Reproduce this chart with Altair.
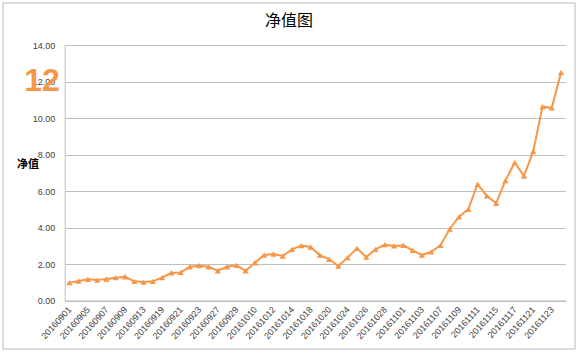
import altair as alt
import pandas as pd

dates = [
    "20160901", "20160902", "20160905", "20160906", "20160907", "20160908", "20160909",
    "20160912", "20160913", "20160914", "20160919", "20160920", "20160921", "20160922",
    "20160923", "20160926", "20160927", "20160928", "20160929", "20160930",
    "20161010", "20161011", "20161012", "20161013", "20161014", "20161017", "20161018",
    "20161019", "20161020", "20161021", "20161024", "20161025", "20161026", "20161027",
    "20161028", "20161031",
    "20161101", "20161102", "20161103", "20161104", "20161107", "20161108", "20161109",
    "20161110", "20161111", "20161114", "20161115", "20161116", "20161117", "20161118",
    "20161121", "20161122", "20161123", "20161124",
]
nav = [
    0.98, 1.07, 1.16, 1.12, 1.18, 1.25, 1.30,
    1.05, 1.01, 1.05, 1.25, 1.52, 1.54, 1.85,
    1.91, 1.85, 1.63, 1.85, 1.93, 1.63,
    2.07, 2.49, 2.55, 2.44, 2.80, 3.01, 2.93,
    2.49, 2.26, 1.89, 2.35, 2.86, 2.38, 2.80,
    3.06, 2.99,
    3.02, 2.75, 2.49, 2.66, 3.02, 3.92, 4.59,
    5.00, 6.37, 5.73, 5.33, 6.57, 7.56, 6.82,
    8.18, 10.62, 10.56, 12.50,
]
y_ticks = [0, 2, 4, 6, 8, 10, 12, 14]
label_dates = dates[::2]

title_text = "净值图"
y_title = "净值"
big_label = "12"

ORANGE = "#F79646"
W, H = 501, 255.5
PAD_L, PAD_T = 64.7, 45

df = pd.DataFrame({"date": dates, "nav": nav})
one = pd.DataFrame({"k": [0]})

x_enc = alt.X(
    "date:O",
    sort=dates,
    scale=alt.Scale(type="point", padding=0.5),
    axis=alt.Axis(
        values=label_dates,
        labelAngle=-48,
        labelAlign="right",
        labelBaseline="middle",
        labelPadding=7,
        labelFontSize=9,
        labelColor="#404040",
        labelFont="Liberation Sans",
        ticks=False,
        domainColor="#bfbfbf",
        grid=False,
        title=None,
        labelOverlap=False,
    ),
)
y_enc = alt.Y(
    "nav:Q",
    scale=alt.Scale(domain=[0, 14], nice=False, zero=True),
    axis=alt.Axis(
        values=y_ticks,
        format=".2f",
        labelFontSize=9,
        labelColor="#404040",
        labelFont="Liberation Sans",
        labelPadding=10,
        labelOverlap=False,
        ticks=False,
        domainColor="#bfbfbf",
        gridColor="#bfbfbf",
        gridWidth=1,
        title=None,
    ),
)

base = alt.Chart(df).encode(x=x_enc, y=y_enc)
line = base.mark_line(color=ORANGE, strokeWidth=2)
pts = base.mark_point(shape="triangle-up", filled=True, color=ORANGE, size=38, opacity=1)

border = alt.Chart(one).mark_rect(fill=None, stroke="#d0d0d0", strokeWidth=1.5).encode(
    x=alt.value(3 - PAD_L), x2=alt.value(575 - PAD_L),
    y=alt.value(3 - PAD_T), y2=alt.value(349 - PAD_T),
)
title = alt.Chart(one).mark_text(
    text=title_text, font="Noto Sans CJK SC", fontSize=16, color="#000000",
    align="center", baseline="middle",
).encode(x=alt.value(289 - PAD_L), y=alt.value(21 - PAD_T))
ytitle = alt.Chart(one).mark_text(
    text=y_title, font="Noto Sans CJK SC", fontSize=11, fontWeight="bold", color="#000000",
    align="center", baseline="middle",
).encode(x=alt.value(28 - PAD_L), y=alt.value(165 - PAD_T))
big = alt.Chart(one).mark_text(
    text=big_label, font="Liberation Sans", fontSize=32,
    fontWeight="bold", color=ORANGE, align="center", baseline="middle",
).encode(x=alt.value(42 - PAD_L), y=alt.value(81 - PAD_T))

chart = alt.layer(border, line, pts, title, ytitle, big).properties(
    width=W, height=H,
    autosize=alt.AutoSizeParams(type="none"),
    padding={"left": PAD_L, "top": PAD_T, "right": 580 - PAD_L - W, "bottom": 353 - PAD_T - H},
    background="white",
).configure_view(stroke=None)

chart.save("out.html", embed_options={"renderer": "svg", "actions": False})
